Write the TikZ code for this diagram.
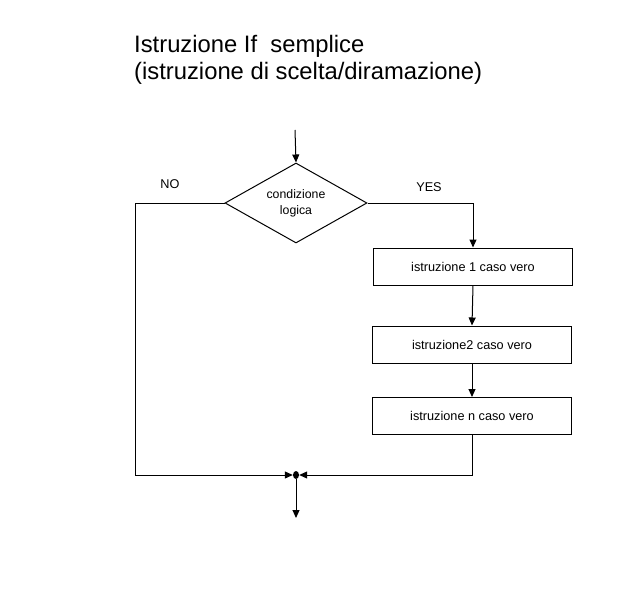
\documentclass[tikz,border=0pt]{standalone}
\usepackage{fontspec}
\setmainfont{Liberation Sans}
\usetikzlibrary{shapes.geometric,arrows.meta}
\begin{document}
\begin{tikzpicture}[x=1pt,y=-1pt,
  line/.style={draw,line width=1pt},
  arr/.style={line,-{Triangle[length=8pt,width=7pt]}},
  stepbox/.style={draw,line width=1pt,minimum width=199pt,minimum height=37pt,inner sep=0pt,font=\fontsize{12.7}{15}\selectfont},
  lbl/.style={font=\fontsize{12.7}{15}\selectfont,inner sep=0pt}]
\useasboundingbox (0,0) rectangle (637,599);
\node[anchor=north west,inner sep=0pt,align=left,font=\fontsize{23.8}{27}\selectfont] (title) at (134,35) {Istruzione If\ \ semplice\\(istruzione di scelta/diramazione)};
\coordinate (start) at (295,130);
\node[draw,line width=1pt,diamond,aspect=1.775,minimum width=142pt,minimum height=80pt,inner sep=0pt,align=center,font=\fontsize{12.3}{16}\selectfont] (cond) at (296,203) {condizione\\logica};
\node[stepbox] (b1) at (473,266.5) {istruzione 1 caso vero};
\node[stepbox] (b2) at (472,344.5) {istruzione2 caso vero};
\node[stepbox] (b3) at (472,416) {istruzione n caso vero};
\node[lbl] (no) at (170,184) {NO};
\node[lbl] (yes) at (429,187) {YES};
\node[ellipse,fill,inner sep=0pt,minimum width=6pt,minimum height=8pt] (j) at (296,475) {};
\coordinate (end) at (296,518);
\draw[arr] (start) -- (cond.north);
\draw[arr] (cond.east) -| (b1.north);
\draw[arr] (b1.south) -- (b2.north);
\draw[arr] (b2.south) -- (b3.north);
\draw[arr] (cond.west) -- (135,203) |- (j.west);
\draw[arr] (b3.south) |- (j.east);
\draw[arr] (j.south) -- (end);
\end{tikzpicture}
\end{document}
